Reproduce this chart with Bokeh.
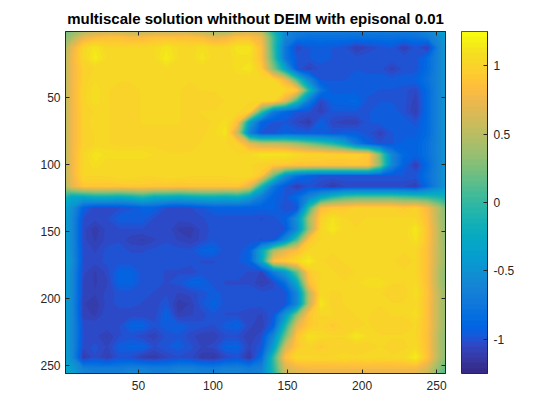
import numpy as np
from bokeh.embed import file_html
from bokeh.layouts import row
from bokeh.resources import INLINE
from bokeh.plotting import figure
from bokeh.models import FixedTicker, LinearAxis, LinearColorMapper, Range1d

TITLE = "multiscale solution whithout DEIM with episonal 0.01"
TICKS = [50, 100, 150, 200, 250]
CB_TICKS = [-1, -0.5, 0, 0.5, 1]
CB_LABELS = {-1: "-1", -0.5: "-0.5", 0: "0", 0.5: "0.5", 1: "1"}
LOW, HIGH = -1.25, 1.25

PARULA = [
 (0.2081,0.1663,0.5292),(0.2116,0.1898,0.5777),(0.2123,0.2138,0.6270),(0.2081,0.2386,0.6771),
 (0.1959,0.2645,0.7279),(0.1707,0.2919,0.7792),(0.1253,0.3242,0.8303),(0.0591,0.3598,0.8683),
 (0.0117,0.3875,0.8820),(0.0060,0.4086,0.8828),(0.0165,0.4266,0.8786),(0.0329,0.4430,0.8720),
 (0.0498,0.4586,0.8641),(0.0629,0.4737,0.8554),(0.0723,0.4887,0.8467),(0.0779,0.5040,0.8384),
 (0.0793,0.5200,0.8312),(0.0749,0.5375,0.8263),(0.0641,0.5570,0.8240),(0.0488,0.5772,0.8228),
 (0.0343,0.5966,0.8199),(0.0265,0.6137,0.8135),(0.0239,0.6287,0.8038),(0.0231,0.6418,0.7913),
 (0.0228,0.6535,0.7768),(0.0267,0.6642,0.7607),(0.0384,0.6743,0.7436),(0.0590,0.6838,0.7254),
 (0.0843,0.6928,0.7062),(0.1133,0.7015,0.6859),(0.1453,0.7098,0.6646),(0.1801,0.7177,0.6424),
 (0.2178,0.7250,0.6193),(0.2586,0.7317,0.5954),(0.3022,0.7376,0.5712),(0.3482,0.7424,0.5473),
 (0.3953,0.7459,0.5244),(0.4420,0.7481,0.5033),(0.4871,0.7491,0.4840),(0.5300,0.7491,0.4661),
 (0.5709,0.7485,0.4494),(0.6099,0.7473,0.4337),(0.6473,0.7456,0.4188),(0.6834,0.7435,0.4044),
 (0.7184,0.7411,0.3905),(0.7525,0.7384,0.3768),(0.7858,0.7356,0.3633),(0.8185,0.7327,0.3498),
 (0.8507,0.7299,0.3360),(0.8824,0.7274,0.3217),(0.9139,0.7258,0.3063),(0.9450,0.7261,0.2886),
 (0.9739,0.7314,0.2666),(0.9938,0.7455,0.2403),(0.9990,0.7653,0.2164),(0.9955,0.7861,0.1967),
 (0.9880,0.8066,0.1794),(0.9789,0.8271,0.1633),(0.9697,0.8481,0.1475),(0.9626,0.8705,0.1309),
 (0.9589,0.8949,0.1132),(0.9598,0.9218,0.0948),(0.9661,0.9514,0.0755),(0.9763,0.9831,0.0538),
]

# field values, in hundredths, one list per row (top to bottom)
r00 = [40,70,80,85,85,80,80,85,85,85,85,80,70,75,85,85,75,5,-60,-75,-80,-80,-80,-80,-80,-80,-80,-80,-80,-78,-70,-55]
r01 = [70,102,112,102,102,102,102,105,112,105,102,108,102,102,112,112,85,5,-75,-105,-98,-95,-98,-100,-110,-105,-100,-98,-110,-100,-110,-60]
r02 = [75,102,116,105,102,102,102,105,116,105,102,112,102,102,108,108,85,10,-75,-98,-98,-95,-98,-98,-100,-98,-98,-98,-98,-100,-85,-60]
r03 = [75,98,102,102,102,102,102,102,105,102,102,102,102,102,108,112,94,30,-30,-98,-108,-100,-98,-98,-98,-100,-100,-108,-100,-100,-85,-60]
r04 = [75,98,105,102,102,102,102,102,102,102,102,102,102,102,102,102,102,102,75,5,-60,-98,-98,-98,-95,-95,-95,-95,-95,-92,-80,-60]
r05 = [75,100,108,102,100,100,102,102,102,102,100,102,102,102,102,102,102,102,102,92,-5,-75,-95,-95,-95,-95,-98,-98,-100,-105,-85,-60]
r06 = [75,100,108,102,100,100,102,102,102,102,100,98,98,102,102,102,102,102,70,0,-70,-105,-92,-90,-88,-100,-98,-98,-100,-108,-85,-60]
r07 = [75,98,102,102,100,100,102,102,102,102,100,102,102,102,102,98,5,-70,-88,-98,-100,-108,-98,-98,-98,-98,-95,-95,-100,-110,-85,-60]
r08 = [75,98,105,102,100,100,102,102,102,102,100,100,102,108,85,-35,-90,-98,-98,-105,-112,-92,-105,-108,-108,-98,-95,-95,-95,-100,-85,-60]
r09 = [75,98,102,102,100,100,100,100,100,100,98,100,105,112,55,-65,-98,-98,-92,-95,-95,-95,-98,-95,-95,-100,-108,-98,-95,-95,-85,-60]
r10 = [75,98,102,102,100,100,100,100,100,98,100,102,102,102,98,70,55,55,50,40,25,10,-5,-30,-70,-92,-100,-98,-92,-92,-80,-60]
r11 = [75,102,112,108,108,108,108,105,102,102,102,102,102,102,102,105,112,112,112,105,102,102,98,98,98,92,25,-60,-88,-92,-80,-60]
r12 = [75,102,108,102,102,102,102,102,102,102,102,102,102,102,102,102,98,92,92,88,88,88,88,88,90,88,30,-60,-92,-110,-85,-60]
r13 = [75,102,102,102,105,105,102,102,105,105,102,102,102,102,105,105,90,20,-50,-80,-92,-98,-98,-98,-98,-98,-98,-98,-98,-98,-80,-60]
r14 = [70,90,90,90,90,92,92,90,90,88,90,90,90,90,90,70,-10,-75,-98,-110,-100,-105,-112,-105,-105,-105,-105,-105,-105,-110,-85,-60]
r15 = [-30,-30,-20,-20,-25,-20,-10,-25,-25,-30,-25,-20,-20,-25,-20,-40,-70,-92,-98,-85,-60,-30,-5,10,15,15,15,15,10,5,0,-10]
r16 = [-50,-92,-104,-104,-102,-98,-92,-92,-102,-104,-102,-98,-92,-92,-92,-92,-92,-92,-102,-98,0,82,92,92,98,98,98,98,92,98,80,45]
r17 = [-55,-102,-104,-102,-95,-95,-95,-102,-102,-104,-102,-102,-100,-100,-100,-100,-102,-100,-92,-50,40,98,110,102,100,102,102,102,102,102,85,45]
r18 = [-55,-104,-112,-104,-102,-102,-102,-102,-102,-110,-112,-104,-100,-100,-100,-100,-100,-100,-98,-55,35,102,114,102,102,102,102,102,102,114,88,50]
r19 = [-55,-104,-110,-104,-102,-108,-110,-106,-102,-106,-109,-104,-98,-98,-100,-100,-102,-98,-55,10,90,102,102,102,102,102,102,102,102,110,88,50]
r20 = [-55,-102,-106,-100,-100,-102,-102,-100,-100,-100,-100,-92,-92,-100,-100,-92,-30,40,70,85,102,102,102,102,102,102,102,102,102,102,85,50]
r21 = [-50,-102,-104,-100,-100,-100,-100,-100,-100,-100,-100,-102,-102,-98,-98,-92,-30,85,94,105,116,102,100,102,102,102,102,102,100,102,85,50]
r22 = [-55,-104,-110,-104,-92,-92,-100,-100,-102,-102,-104,-100,-100,-100,-100,-102,-106,-70,-40,20,92,102,102,98,102,102,102,102,102,102,85,45]
r23 = [-55,-106,-110,-106,-92,-92,-100,-100,-102,-100,-92,-92,-100,-102,-102,-102,-110,-104,-80,-25,85,102,105,102,105,108,108,102,102,105,85,45]
r24 = [-55,-106,-109,-104,-100,-100,-100,-102,-102,-106,-104,-100,-95,-100,-100,-100,-100,-100,-100,-60,50,105,100,102,105,102,102,98,98,108,88,50]
r25 = [-55,-109,-112,-104,-100,-100,-102,-104,-98,-112,-109,-98,-92,-100,-100,-100,-100,-100,-100,-60,50,114,98,102,102,102,102,102,102,105,86,50]
r26 = [-55,-108,-110,-102,-104,-104,-104,-104,-92,-109,-106,-104,-98,-102,-102,-104,-106,-98,-45,30,90,102,102,98,102,102,98,102,102,108,86,50]
r27 = [-55,-102,-102,-102,-102,-92,-92,-100,-95,-95,-98,-100,-102,-95,-92,-104,-109,-92,-10,70,92,98,92,98,98,102,98,98,98,102,86,50]
r28 = [-55,-102,-104,-110,-102,-100,-104,-108,-100,-98,-104,-108,-108,-102,-102,-109,-102,-60,20,90,110,105,102,102,114,105,102,102,102,102,85,45]
r29 = [-55,-104,-100,-106,-95,-92,-92,-102,-98,-95,-100,-106,-104,-92,-92,-106,-98,-40,60,92,100,92,98,98,98,98,102,100,100,105,85,45]
r30 = [-55,-112,-102,-110,-100,-102,-110,-112,-106,-102,-104,-112,-114,-104,-100,-114,-85,0,85,105,102,102,102,105,102,105,102,102,105,116,88,45]
r31 = [-40,-65,-70,-70,-70,-65,-65,-70,-70,-65,-65,-70,-70,-65,-65,-70,-65,-5,65,75,80,80,80,80,80,80,80,80,80,80,65,30]
ROWS = [r00,r01,r02,r03,r04,r05,r06,r07,r08,r09,r10,r11,r12,r13,r14,r15,
        r16,r17,r18,r19,r20,r21,r22,r23,r24,r25,r26,r27,r28,r29,r30,r31]

# values read along the four borders of the box, and at its corners
edge_top = [30,45,55,55,55,50,50,55,55,55,55,50,40,40,55,60,50,-10,-60,-70,-72,-72,-72,-72,-72,-72,-72,-72,-72,-70,-60,-40]
edge_bottom = [-35,-60,-65,-65,-65,-60,-60,-65,-65,-60,-60,-65,-65,-60,-60,-65,-60,-10,55,65,70,70,70,70,70,70,70,70,70,70,55,20]
edge_left = [30,45,50,50,50,50,50,50,50,50,50,50,50,50,45,-10,-35,-40,-40,-40,-40,-35,-40,-40,-40,-40,-40,-40,-40,-40,-40,-30]
edge_right = [-40,-45,-45,-45,-45,-45,-45,-45,-45,-45,-45,-45,-45,-45,-45,-15,25,30,30,30,35,35,30,30,35,35,35,35,30,30,30,15]
corners = [20, -35, -30, 10]  # top left, top right, bottom left, bottom right

palette = ["#%02x%02x%02x" % tuple(int(round(c*255)) for c in rgb) for rgb in PARULA]
mapper = LinearColorMapper(palette=palette, low=LOW, high=HIGH)
INK = "#262626"
FONT = "Liberation Sans"

inner = np.column_stack([edge_left, np.array(ROWS), edge_right])
top = [corners[0]] + edge_top + [corners[1]]
bottom = [corners[2]] + edge_bottom + [corners[3]]
field = np.vstack([top, inner, bottom]) / 100.0

p = figure(width=472, height=420, output_backend="svg", toolbar_location=None,
           x_range=Range1d(1, 256), y_range=Range1d(256, 1),
           min_border_left=65, min_border_top=31, min_border_bottom=47, min_border_right=16)
p.frame_width = 380
p.frame_height = 342
p.grid.visible = False

# node positions: box borders plus the centres of the 32 sampled cells
centres = 1 + 255 * (np.arange(32) + 0.5) / 32
xs = np.concatenate([[1], centres, [256]])
ys = xs.copy()

# one filled contour per palette colour, painted from low to high so no seams show
edges = np.linspace(LOW, HIGH, len(palette) + 1)
for lev, colour in zip(edges[:-1], palette):
    p.contour(xs, ys, field, [lev, HIGH + 0.01], fill_color=[colour], line_color=None)

for ax in (p.xaxis[0], p.yaxis[0]):
    ax.ticker = FixedTicker(ticks=TICKS)
    ax.major_tick_in, ax.major_tick_out = 4, 0
    ax.minor_tick_line_color = None
    ax.axis_line_color = INK
    ax.major_tick_line_color = INK
    ax.major_label_text_font = FONT
    ax.major_label_text_font_size = "12px"
    ax.major_label_text_color = INK
p.yaxis[0].major_label_standoff = 5
p.xaxis[0].major_label_standoff = 7
p.yaxis[0].major_label_orientation = "horizontal"

p.title.text = TITLE
p.title.align = "center"
p.title.text_font = FONT
p.title.text_font_size = "15px"
p.title.text_font_style = "bold"
p.title.text_color = "#000000"
p.outline_line_color = INK

blank = {t: "" for t in TICKS}
for side in ("above", "right"):
    ax = LinearAxis(ticker=FixedTicker(ticks=TICKS), major_tick_in=4, major_tick_out=0,
                    minor_tick_line_color=None, axis_line_color=INK, major_tick_line_color=INK,
                    major_label_overrides=blank, major_label_standoff=0)
    p.add_layout(ax, side)

# colour bar: its own axes, one cell per palette colour
pc = figure(width=80, height=420, output_backend="svg", toolbar_location=None,
            x_range=Range1d(0, 1), y_range=Range1d(LOW, HIGH),
            y_axis_location="right", min_border_left=0, min_border_top=31,
            min_border_bottom=47, min_border_right=0)
pc.frame_width = 26
pc.frame_height = 342
pc.grid.visible = False
pc.xaxis.visible = False
pc.outline_line_color = INK
step = (HIGH - LOW) / len(palette)
bar = np.array([[LOW + (i + 0.5) * step] for i in range(len(palette))])
pc.image(image=[bar], x=0, y=LOW, dw=1, dh=HIGH - LOW, color_mapper=mapper)
ay = pc.yaxis[0]
ay.ticker = FixedTicker(ticks=CB_TICKS)
ay.major_label_overrides = CB_LABELS
ay.major_tick_in, ay.major_tick_out = 4, 0
ay.minor_tick_line_color = None
ay.axis_line_color = INK
ay.major_tick_line_color = INK
ay.major_label_text_font = FONT
ay.major_label_text_font_size = "12px"
ay.major_label_text_color = INK
ay.major_label_standoff = 6

layout = row(p, pc, spacing=0)
open("out.html", "w").write(file_html(layout, INLINE))
